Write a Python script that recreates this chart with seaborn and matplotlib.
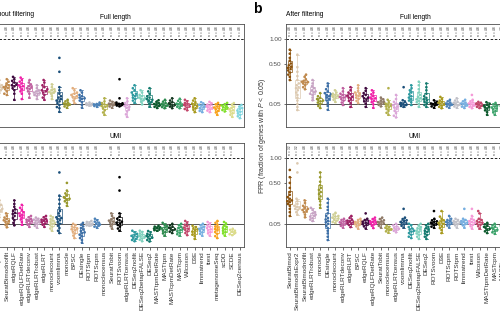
import warnings
import numpy as np
import pandas as pd
import matplotlib
matplotlib.use("Agg")
import matplotlib.pyplot as plt
import seaborn as sns

warnings.filterwarnings("ignore")

# method order on the x axis of each panel
methods_a = ["SeuratBimod", "SeuratBimodIsExpr2", "SeuratBimodnofilt", "edgeRQLF", "edgeRQLFDetRate",
             "edgeRLRTdeconv", "edgeRLRTrobust", "edgeRLRT", "monoclecount", "voomlimma", "monocle",
             "BPSC", "DEsingle", "ROTStpm", "ROTScpm", "monoclecensus", "SeuratTobit", "ROTSvoom",
             "edgeRLRTcensus", "DESeq2nofilt", "DESeq2betapFALSE", "DESeq2", "MASTtpmDetRate", "MASTtpm",
             "MASTcpmDetRate", "MASTcpm", "Wilcoxon", "D3E", "limmatrend", "ttest", "metagenomeSeq",
             "scDD", "SCDE", "DESeq2census"]
methods_b = ["SeuratBimod", "SeuratBimodIsExpr2", "SeuratBimodnofilt", "edgeRLRTrobust", "monocle",
             "DEsingle", "monoclecount", "edgeRLRTdeconv", "edgeRLRT", "BPSC", "edgeRQLF",
             "edgeRQLFDetRate", "SeuratTobit", "monoclecensus", "edgeRLRTcensus", "voomlimma",
             "DESeq2nofilt", "DESeq2betapFALSE", "DESeq2", "ROTSvoom", "D3E", "ROTScpm", "ROTStpm",
             "limmatrend", "ttest", "Wilcoxon", "MASTtpmDetRate", "MASTcpm", "MASTtpm", "MASTcpmDetRate",
             "metagenomeSeq", "scDD", "SCDE", "DESeq2census"]

colours = {
    "SeuratBimod": "#8C510A", "SeuratBimodIsExpr2": "#DCC9B0", "SeuratBimodnofilt": "#C08A4E",
    "edgeRLRTrobust": "#C7A3C4", "monocle": "#99992E", "DEsingle": "#3D6FA6", "monoclecount": "#CFCF95",
    "edgeRLRTdeconv": "#C060A0", "edgeRLRT": "#9E1F63", "BPSC": "#E2AE7E", "edgeRQLF": "#3F0A3F",
    "edgeRQLFDetRate": "#F01FA8", "SeuratTobit": "#8F7A68", "monoclecensus": "#B2B04A",
    "edgeRLRTcensus": "#DBA6D8", "voomlimma": "#1B4F7A", "DESeq2nofilt": "#2E9AA0",
    "DESeq2betapFALSE": "#7FD1BE", "DESeq2": "#137A6E", "ROTSvoom": "#000000", "D3E": "#A89A1E",
    "ROTScpm": "#4C82B8", "ROTStpm": "#C0C0C8", "limmatrend": "#75AEE0", "ttest": "#F59AD8",
    "Wilcoxon": "#C2456A", "MASTtpmDetRate": "#0D5A2E", "MASTtpm": "#2D8A4E",
    "MASTcpmDetRate": "#12361F", "MASTcpm": "#3BA26A", "metagenomeSeq": "#F7A21B", "scDD": "#7FE02A",
    "SCDE": "#DCDC8C", "DESeq2census": "#7FD6E0",
}

# FPR values per method (same order as methods_a / methods_b)
fpr_a_full = [
    [0.5, 0.42, 0.38, 0.35, 0.3, 0.26],
    [0.26, 0.23, 0.21, 0.2, 0.19, 0.18, 0.17, 0.16, 0.15, 0.13],
    [0.27, 0.24, 0.22, 0.2, 0.19, 0.18, 0.17, 0.16, 0.14, 0.12, 0.11],
    [0.3, 0.27, 0.25, 0.23, 0.21, 0.2, 0.19, 0.17, 0.15, 0.12, 0.075],
    [0.29, 0.26, 0.24, 0.22, 0.2, 0.19, 0.18, 0.16, 0.14, 0.12, 0.08],
    [0.26, 0.23, 0.21, 0.19, 0.18, 0.17, 0.16, 0.14, 0.12, 0.09],
    [0.2, 0.17, 0.15, 0.14, 0.13, 0.125, 0.12, 0.11, 0.1, 0.08],
    [0.26, 0.23, 0.2, 0.18, 0.16, 0.15, 0.14, 0.13, 0.11, 0.09, 0.075],
    [0.21, 0.18, 0.16, 0.15, 0.14, 0.135, 0.13, 0.12, 0.1, 0.08],
    [0.6, 0.37, 0.18, 0.15, 0.12, 0.1, 0.09, 0.08, 0.07, 0.065, 0.055, 0.045, 0.035, 0.03, 0.017],
    [0.075, 0.065, 0.058, 0.053, 0.05, 0.047, 0.043, 0.038, 0.032],
    [0.17, 0.15, 0.13, 0.12, 0.11, 0.1, 0.095, 0.085, 0.07, 0.055],
    [0.15, 0.13, 0.11, 0.1, 0.09, 0.085, 0.08, 0.07, 0.06, 0.045, 0.032],
    [0.058, 0.054, 0.052, 0.05, 0.049, 0.047, 0.045, 0.042],
    [0.058, 0.053, 0.05, 0.048, 0.046, 0.044, 0.04, 0.036],
    [0.085, 0.065, 0.055, 0.048, 0.043, 0.04, 0.036, 0.03, 0.022, 0.015, 0.009],
    [0.07, 0.062, 0.056, 0.052, 0.05, 0.047, 0.043, 0.038, 0.032],
    [0.27, 0.085, 0.058, 0.054, 0.051, 0.049, 0.047, 0.045, 0.042, 0.038],
    [0.085, 0.065, 0.055, 0.045, 0.04, 0.036, 0.032, 0.025, 0.018, 0.01, 0.005],
    [0.2, 0.17, 0.15, 0.13, 0.12, 0.11, 0.1, 0.09, 0.08, 0.07, 0.057],
    [0.15, 0.13, 0.11, 0.1, 0.09, 0.085, 0.08, 0.072, 0.062, 0.048],
    [0.17, 0.14, 0.12, 0.1, 0.09, 0.08, 0.075, 0.068, 0.06, 0.05, 0.037],
    [0.072, 0.062, 0.055, 0.05, 0.047, 0.044, 0.04, 0.036, 0.031],
    [0.075, 0.063, 0.056, 0.05, 0.046, 0.043, 0.04, 0.035, 0.03],
    [0.085, 0.07, 0.06, 0.054, 0.05, 0.046, 0.042, 0.037, 0.03],
    [0.082, 0.068, 0.058, 0.052, 0.048, 0.045, 0.041, 0.036, 0.03],
    [0.075, 0.065, 0.056, 0.05, 0.046, 0.042, 0.038, 0.033, 0.027, 0.022],
    [0.085, 0.07, 0.06, 0.052, 0.046, 0.04, 0.035, 0.03, 0.024, 0.016],
    [0.06, 0.052, 0.046, 0.042, 0.038, 0.034, 0.03, 0.025, 0.02, 0.016],
    [0.062, 0.053, 0.047, 0.042, 0.038, 0.034, 0.03, 0.026, 0.021, 0.016],
    [0.056, 0.048, 0.042, 0.037, 0.033, 0.029, 0.025, 0.02, 0.015, 0.009],
    [0.056, 0.049, 0.043, 0.038, 0.034, 0.03, 0.027, 0.023, 0.018],
    [0.055, 0.045, 0.037, 0.031, 0.026, 0.022, 0.018, 0.013, 0.009, 0.005],
    [0.045, 0.037, 0.031, 0.026, 0.021, 0.017, 0.013, 0.009, 0.006, 0.003],
]
fpr_a_umi = [
    [0.4, 0.3, 0.25, 0.22, 0.18],
    [0.25, 0.22, 0.2, 0.18, 0.16, 0.15, 0.14, 0.13, 0.11, 0.09],
    [0.12, 0.1, 0.088, 0.078, 0.07, 0.066, 0.06, 0.052, 0.044, 0.033],
    [0.25, 0.21, 0.18, 0.155, 0.14, 0.125, 0.115, 0.1, 0.085, 0.07, 0.055, 0.042],
    [0.2, 0.17, 0.15, 0.13, 0.12, 0.11, 0.1, 0.09, 0.075, 0.06, 0.045],
    [0.1, 0.09, 0.08, 0.074, 0.068, 0.064, 0.058, 0.052, 0.045, 0.035],
    [0.088, 0.08, 0.074, 0.069, 0.065, 0.06, 0.055, 0.048, 0.04, 0.032],
    [0.1, 0.09, 0.08, 0.074, 0.068, 0.064, 0.058, 0.052, 0.045, 0.035],
    [0.1, 0.088, 0.077, 0.068, 0.06, 0.055, 0.05, 0.044, 0.036, 0.028, 0.02],
    [0.69, 0.31, 0.26, 0.21, 0.17, 0.14, 0.12, 0.1, 0.09, 0.085, 0.078, 0.07, 0.06, 0.05, 0.04, 0.03, 0.02, 0.013],
    [0.5, 0.38, 0.34, 0.31, 0.29, 0.28, 0.27, 0.26, 0.24, 0.22, 0.19],
    [0.05, 0.043, 0.037, 0.032, 0.028, 0.025, 0.021, 0.017, 0.012, 0.007, 0.003],
    [0.055, 0.045, 0.037, 0.03, 0.024, 0.019, 0.015, 0.012, 0.009, 0.006, 0.003, 0.001, 0.0],
    [0.066, 0.06, 0.055, 0.051, 0.048, 0.045, 0.042, 0.04],
    [0.08, 0.07, 0.062, 0.056, 0.05, 0.046, 0.041, 0.036, 0.031],
    [],
    [0.12, 0.1, 0.085, 0.075, 0.068, 0.062, 0.056, 0.048, 0.038, 0.028],
    [0.6, 0.38, 0.12, 0.095, 0.08, 0.07, 0.062, 0.056, 0.05, 0.044, 0.036, 0.028, 0.02],
    [],
    [0.02, 0.015, 0.011, 0.008, 0.0065, 0.005, 0.0035, 0.002, 0.001, 0.0003],
    [0.02, 0.016, 0.012, 0.009, 0.007, 0.0055, 0.004, 0.0025, 0.0012, 0.0003],
    [0.019, 0.015, 0.011, 0.0085, 0.0065, 0.005, 0.0035, 0.0022, 0.001, 0.0002],
    [0.04, 0.036, 0.033, 0.03, 0.028, 0.025, 0.022, 0.02],
    [0.055, 0.045, 0.038, 0.032, 0.028, 0.024, 0.02, 0.016, 0.012, 0.007],
    [0.05, 0.042, 0.036, 0.031, 0.028, 0.025, 0.021, 0.017, 0.013],
    [0.05, 0.042, 0.035, 0.03, 0.026, 0.022, 0.018, 0.014, 0.01, 0.007],
    [0.066, 0.055, 0.045, 0.038, 0.032, 0.027, 0.023, 0.018, 0.013, 0.008],
    [0.04, 0.034, 0.029, 0.025, 0.021, 0.017, 0.013, 0.009, 0.006, 0.002],
    [0.05, 0.042, 0.036, 0.031, 0.027, 0.023, 0.019, 0.015, 0.011, 0.007],
    [0.06, 0.05, 0.042, 0.035, 0.03, 0.025, 0.021, 0.016, 0.012, 0.007],
    [0.066, 0.055, 0.045, 0.037, 0.031, 0.026, 0.021, 0.016, 0.011, 0.006, 0.003],
    [0.06, 0.05, 0.041, 0.035, 0.03, 0.025, 0.02, 0.016, 0.012, 0.007],
    [0.027, 0.023, 0.02, 0.017, 0.014, 0.012, 0.01, 0.008],
    [],
]
fpr_b_full = [
    [0.76, 0.68, 0.6, 0.55, 0.5, 0.47, 0.45, 0.43, 0.41, 0.39, 0.36, 0.33, 0.3, 0.26],
    [0.66, 0.44, 0.37, 0.31, 0.26, 0.22, 0.2, 0.18, 0.17, 0.15, 0.13, 0.11, 0.09, 0.07, 0.05, 0.035, 0.023],
    [0.33, 0.3, 0.27, 0.25, 0.24, 0.235, 0.23, 0.22, 0.2, 0.18, 0.16],
    [0.26, 0.22, 0.19, 0.17, 0.15, 0.14, 0.13, 0.12, 0.11, 0.09, 0.072],
    [0.125, 0.1, 0.088, 0.08, 0.075, 0.07, 0.065, 0.058, 0.05, 0.04, 0.031],
    [0.22, 0.19, 0.16, 0.14, 0.125, 0.115, 0.11, 0.1, 0.09, 0.08, 0.07, 0.055, 0.04, 0.024],
    [0.15, 0.13, 0.12, 0.11, 0.105, 0.1, 0.095, 0.088, 0.075, 0.062],
    [0.17, 0.14, 0.12, 0.11, 0.1, 0.095, 0.09, 0.08, 0.07, 0.058, 0.045],
    [0.18, 0.15, 0.13, 0.115, 0.105, 0.097, 0.09, 0.08, 0.068, 0.055, 0.036],
    [0.2, 0.17, 0.145, 0.13, 0.12, 0.11, 0.1, 0.09, 0.08, 0.068, 0.055],
    [0.17, 0.145, 0.125, 0.11, 0.1, 0.09, 0.085, 0.075, 0.065, 0.052, 0.036],
    [0.15, 0.13, 0.115, 0.1, 0.09, 0.085, 0.08, 0.07, 0.06, 0.048, 0.032],
    [0.09, 0.078, 0.07, 0.064, 0.06, 0.056, 0.052, 0.046, 0.038],
    [0.17, 0.075, 0.06, 0.052, 0.046, 0.042, 0.038, 0.033, 0.027, 0.02, 0.014, 0.009],
    [0.11, 0.08, 0.062, 0.052, 0.044, 0.038, 0.033, 0.027, 0.02, 0.013, 0.007, 0.004],
    [0.18, 0.072, 0.062, 0.056, 0.052, 0.05, 0.047, 0.044, 0.04, 0.036],
    [0.2, 0.17, 0.15, 0.13, 0.115, 0.1, 0.09, 0.08, 0.07, 0.06, 0.045],
    [0.24, 0.2, 0.16, 0.13, 0.11, 0.095, 0.085, 0.078, 0.07, 0.06, 0.05, 0.036],
    [0.22, 0.18, 0.15, 0.12, 0.1, 0.088, 0.078, 0.07, 0.062, 0.053, 0.045, 0.036],
    [0.072, 0.063, 0.057, 0.053, 0.05, 0.047, 0.043, 0.038, 0.032],
    [0.095, 0.08, 0.07, 0.062, 0.057, 0.053, 0.048, 0.042, 0.036, 0.03],
    [0.075, 0.065, 0.058, 0.053, 0.05, 0.047, 0.043, 0.038, 0.032],
    [0.085, 0.07, 0.062, 0.056, 0.051, 0.047, 0.043, 0.038, 0.032],
    [0.075, 0.065, 0.058, 0.053, 0.05, 0.046, 0.042, 0.037, 0.031],
    [0.11, 0.075, 0.065, 0.058, 0.053, 0.049, 0.045, 0.041, 0.036, 0.03],
    [0.062, 0.057, 0.053, 0.05, 0.047, 0.044, 0.04, 0.036, 0.031],
    [0.06, 0.052, 0.046, 0.041, 0.037, 0.033, 0.028, 0.022, 0.016, 0.009],
    [0.056, 0.048, 0.042, 0.037, 0.033, 0.029, 0.025, 0.02, 0.015, 0.009],
    [0.05, 0.04, 0.03, 0.02],
    [0.05, 0.04, 0.03, 0.02],
    [0.045, 0.035, 0.025, 0.015],
    [0.045, 0.035, 0.025, 0.015],
    [0.04, 0.03, 0.02, 0.01],
    [0.04, 0.03, 0.02, 0.01],
]
fpr_b_umi = [
    [0.74, 0.6, 0.5, 0.42, 0.36, 0.32, 0.29, 0.27, 0.25, 0.24, 0.23, 0.21, 0.19, 0.16, 0.13, 0.1],
    [0.88, 0.69, 0.27, 0.24, 0.21, 0.19, 0.18, 0.17, 0.16, 0.15, 0.13, 0.11],
    [0.25, 0.22, 0.19, 0.17, 0.16, 0.15, 0.14, 0.13, 0.11, 0.09],
    [0.17, 0.15, 0.13, 0.12, 0.11, 0.1, 0.095, 0.085, 0.075, 0.066],
    [0.69, 0.6, 0.52, 0.46, 0.42, 0.39, 0.36, 0.33, 0.3, 0.27, 0.24, 0.2, 0.17],
    [0.27, 0.22, 0.18, 0.15, 0.12, 0.1, 0.085, 0.075, 0.067, 0.058, 0.05, 0.04, 0.03, 0.02, 0.012, 0.005, 0.001],
    [0.125, 0.11, 0.1, 0.095, 0.088, 0.082, 0.075, 0.068, 0.06, 0.055],
    [0.08, 0.072, 0.066, 0.062, 0.058, 0.054, 0.05, 0.045, 0.04, 0.032],
    [0.1, 0.085, 0.075, 0.068, 0.063, 0.059, 0.055, 0.05, 0.044, 0.034],
    [0.08, 0.072, 0.066, 0.06, 0.056, 0.052, 0.048, 0.043, 0.037, 0.028],
    [0.12, 0.08, 0.072, 0.066, 0.061, 0.057, 0.053, 0.048, 0.043, 0.037, 0.028],
    [0.088, 0.078, 0.07, 0.064, 0.06, 0.056, 0.052, 0.047, 0.04, 0.03],
    [0.088, 0.078, 0.07, 0.064, 0.06, 0.056, 0.052, 0.047, 0.04, 0.032],
    [0.04, 0.035, 0.031, 0.028, 0.025, 0.022, 0.018, 0.014],
    [0.05, 0.042, 0.036, 0.031, 0.027, 0.024, 0.02, 0.015],
    [0.16, 0.088, 0.078, 0.07, 0.064, 0.06, 0.056, 0.052, 0.047, 0.04, 0.032],
    [0.05, 0.042, 0.034, 0.028, 0.024, 0.02, 0.017, 0.013, 0.009, 0.005, 0.003],
    [0.05, 0.041, 0.034, 0.029, 0.024, 0.02, 0.016, 0.012, 0.009, 0.005, 0.002],
    [0.05, 0.042, 0.035, 0.029, 0.024, 0.02, 0.016, 0.012, 0.008, 0.005, 0.002],
    [0.14, 0.08, 0.07, 0.064, 0.06, 0.056, 0.052, 0.048, 0.043, 0.036, 0.031],
    [0.14, 0.095, 0.08, 0.07, 0.062, 0.055, 0.05, 0.044, 0.038, 0.03, 0.022, 0.013],
    [0.1, 0.08, 0.072, 0.065, 0.06, 0.056, 0.052, 0.047, 0.041, 0.032],
    [0.08, 0.072, 0.065, 0.06, 0.056, 0.052, 0.048, 0.042, 0.032],
    [0.16, 0.08, 0.072, 0.065, 0.06, 0.056, 0.052, 0.048, 0.042, 0.032],
    [0.16, 0.1, 0.08, 0.072, 0.065, 0.06, 0.055, 0.05, 0.045, 0.038, 0.028],
    [0.14, 0.12, 0.08, 0.072, 0.065, 0.06, 0.055, 0.05, 0.045, 0.038, 0.028],
    [0.055, 0.047, 0.04, 0.035, 0.031, 0.027, 0.023, 0.018, 0.013],
    [0.05, 0.042, 0.036, 0.031, 0.027, 0.023, 0.019, 0.015, 0.011],
    [0.05, 0.04, 0.03, 0.02],
    [0.05, 0.04, 0.03, 0.02],
    [0.045, 0.035, 0.025, 0.015],
    [0.045, 0.035, 0.025, 0.015],
    [0.04, 0.03, 0.02, 0.01],
    [0.04, 0.03, 0.02, 0.01],
]

# number of data sets per method, printed in the strip at the top of each facet
n_a_full = [48] * 34
n_a_umi = [48] * 15 + [None] + [48, 48] + [None] + [48] * 14 + [None]
n_b_full = [48] * 34
n_b_umi = [32, 32] + [48] * 32

plt.rcParams["font.family"] = ["Liberation Sans", "DejaVu Sans"]
plt.rcParams["mathtext.fontset"] = "custom"
plt.rcParams["mathtext.it"] = "Liberation Sans:italic"
plt.rcParams["mathtext.rm"] = "Liberation Sans"

GREY_TXT = "#4D4D4D"


def fwd(v):
    v = np.asarray(v, dtype=float)
    return np.sign(v) * np.sqrt(np.abs(v))


def inv(v):
    v = np.asarray(v, dtype=float)
    return np.sign(v) * v ** 2


def draw_facet(ax, methods, values, ns, title, show_x, show_y):
    rows = [(m, v) for m, vals in zip(methods, values) for v in vals]
    df = pd.DataFrame(rows, columns=["method", "fpr"])
    ax.set_yscale("function", functions=(fwd, inv))

    sns.boxplot(data=df, x="method", y="fpr", order=methods, color="white", width=0.6,
                linewidth=0.5, showfliers=False, whis=1.5, ax=ax, zorder=2)
    # colour the boxes and whiskers with the method colour
    for p in ax.patches:
        xs = p.get_transform().transform(p.get_path().vertices)[:, 0]
        xd = ax.transData.inverted().transform(np.c_[xs, np.zeros_like(xs)])[:, 0]
        col = colours[methods[int(round(xd.mean()))]]
        p.set_edgecolor(col)
        p.set_facecolor((1, 1, 1, 0.7))
    for ln in ax.lines:
        xd = np.asarray(ln.get_xdata(), dtype=float)
        if len(xd):
            ln.set_color(colours[methods[int(round(xd.mean()))]])

    sns.swarmplot(data=df, x="method", y="fpr", hue="method", order=methods, hue_order=methods,
                  palette=colours, size=1.9, linewidth=0, legend=False, ax=ax, zorder=4)

    ax.axhline(0.05, color="#555555", lw=0.7, zorder=1)
    ax.axhline(1.0, color="black", lw=0.6, ls=(0, (3, 2)), zorder=1)
    for i, n in enumerate(ns):
        if n is not None:
            ax.text(i, 1.2, f"n = {n}", rotation=90, ha="center", va="center",
                    fontsize=2.4, color="#333333")

    ax.set_xlim(-0.5, len(methods) - 0.5)
    ax.set_ylim(-0.0026, 1.39)
    ax.set_yticks([0.05, 0.5, 1.0])
    ax.set_yticklabels(["0.05", "0.50", "1.00"] if show_y else [])
    ax.set_xticks(range(len(methods)))
    if show_x:
        ax.set_xticklabels(methods, rotation=90, fontsize=4.6, color="black")
    else:
        ax.set_xticklabels([])
    ax.set_xlabel("")
    ax.set_ylabel("")
    ax.set_title(title, fontsize=4.8, pad=3.5)
    ax.tick_params(axis="both", length=1.8, width=0.5, colors="#333333", labelsize=4.6, pad=1.2)
    ax.tick_params(axis="y", labelcolor=GREY_TXT)
    if not show_x:
        ax.tick_params(axis="x", length=0)
    for s in ax.spines.values():
        s.set_color("#4D4D4D")
        s.set_linewidth(0.6)


fig = plt.figure(figsize=(5, 3.19), dpi=100)
W, H = 500.0, 319.0
top_box = (24, 127)
bot_box = (143, 247)


def add_axes(x0, x1, box):
    return fig.add_axes([x0 / W, 1 - box[1] / H, (x1 - x0) / W, (box[1] - box[0]) / H])


ax_a1 = add_axes(-12.0, 243.5, top_box)
ax_a2 = add_axes(-12.0, 243.5, bot_box)
ax_b1 = add_axes(286.0, 544.0, top_box)
ax_b2 = add_axes(286.0, 544.0, bot_box)

draw_facet(ax_a1, methods_a, fpr_a_full, n_a_full, "Full length", False, False)
draw_facet(ax_a2, methods_a, fpr_a_umi, n_a_umi, "UMI", True, False)
draw_facet(ax_b1, methods_b, fpr_b_full, n_b_full, "Full length", False, True)
draw_facet(ax_b2, methods_b, fpr_b_umi, n_b_umi, "UMI", True, True)

fig.text(-12.0 / W, 1 - 14 / H, "Without filtering", fontsize=4.8, ha="left", va="center")
fig.text(286.0 / W, 1 - 14 / H, "After filtering", fontsize=4.8, ha="left", va="center")
fig.text(253.0 / W, 1 - 9 / H, "b", fontsize=10, fontweight="bold", ha="left", va="center")
fig.text(262.0 / W, 1 - 135.5 / H, "FPR (fraction of genes with $P$ < 0.05)", rotation=90,
         fontsize=5.0, ha="center", va="center", color="#333333")

fig.savefig("out.png", dpi=100)
